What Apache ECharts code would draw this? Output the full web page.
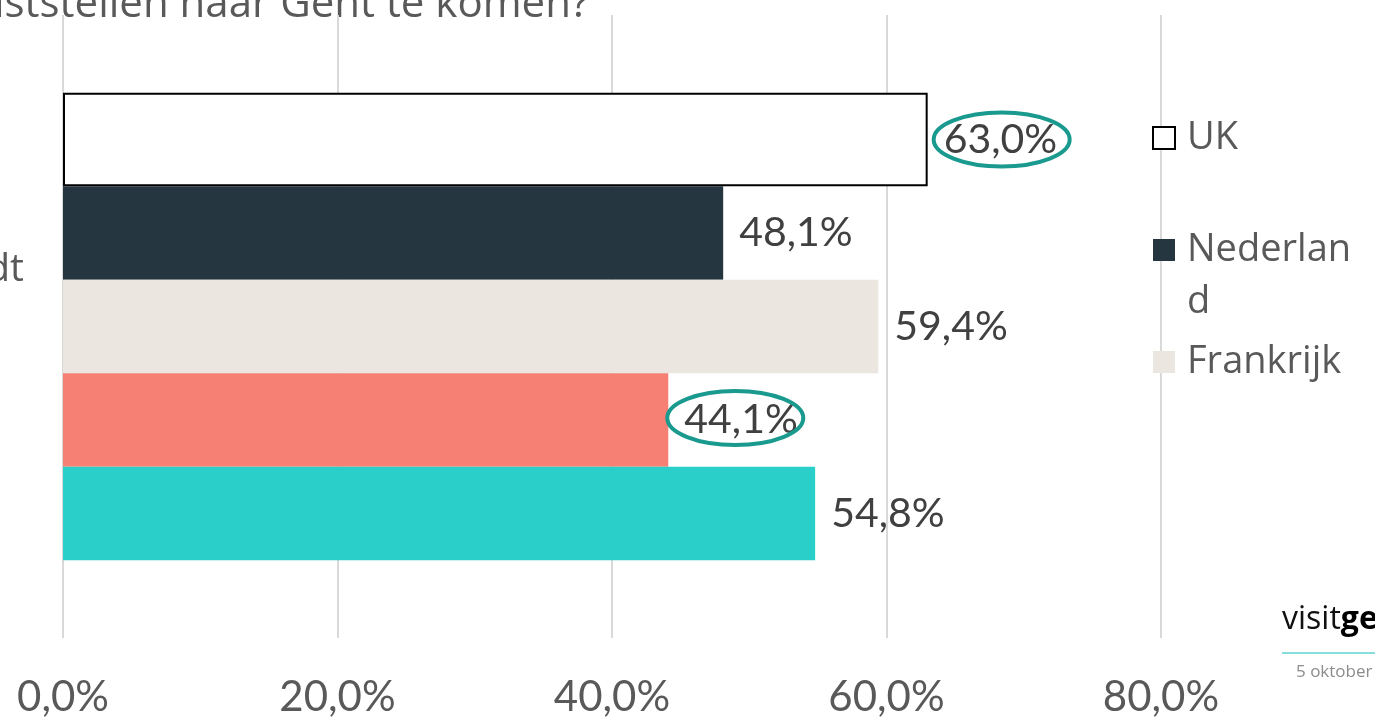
<!DOCTYPE html>
<html>
<head>
<meta charset="utf-8">
<script src="https://cdn.jsdelivr.net/npm/echarts@6/dist/echarts.min.js"></script>
<style>
  html, body { margin: 0; padding: 0; background: #fff; }
  #main { width: 1375px; height: 718px; }
</style>
</head>
<body>
<div id="main"></div>
<script>
// data
const categories = ["dt"];
const seriesNames = ["UK", "Nederland", "Frankrijk", "Duitsland", "Spanje"];
const seriesValues = [[63.0], [48.1], [59.4], [44.1], [54.8]];
const xTicks = [0, 20, 40, 60, 80];
const circled = ["UK", "Duitsland"]; // omcirkelde waarden

const colors = ["#ffffff", "#263640", "#ebe6e0", "#f58073", "#29cfc8"];
const numFont = "Lato, 'Open Sans', sans-serif";
const txtFont = "'Open Sans', Lato, sans-serif";
const fmt = (v) => v.toFixed(1).replace(".", ",") + "%";

const myChart = echarts.init(document.getElementById("main"));

const series = seriesNames.map((name, i) => ({
  name: name,
  type: "bar",
  data: seriesValues[i],
  barWidth: 93.5,
  barGap: "0%",
  itemStyle: {
    color: colors[i],
    borderColor: i === 0 ? "#000" : colors[i],
    borderWidth: i === 0 ? 2 : 0,
  },
  label: {
    show: true,
    position: "right",
    distance: 16,
    formatter: (p) => fmt(p.value),
    fontFamily: numFont,
    fontSize: 41,
    color: "#404040",
  },
}));

const option = {
  animation: false,
  color: colors,
  grid: { left: 63, right: 214, top: 15, bottom: 75 },
  xAxis: {
    type: "value",
    min: xTicks[0],
    max: xTicks[xTicks.length - 1],
    interval: 20,
    axisLine: { show: false },
    axisTick: { show: false },
    splitLine: { lineStyle: { color: "#d9d9d9", width: 2 } },
    axisLabel: {
      fontFamily: numFont,
      fontSize: 42,
      color: "#595959",
      margin: 38,
      formatter: (v) => fmt(v),
    },
  },
  yAxis: {
    type: "category",
    data: categories,
    inverse: true,
    axisLine: { show: false },
    axisTick: { show: false },
    axisLabel: { show: false },
  },
  legend: {
    orient: "vertical",
    left: 1147,
    top: 107,
    icon: "rect",
    itemWidth: 22,
    itemHeight: 22,
    itemGap: 8,
    data: [
      { name: "UK", itemStyle: { borderColor: "#000", borderWidth: 2 } },
      { name: "Nederland" },
      { name: "Frankrijk" },
    ],
    formatter: (n) => (n === "Nederland" ? "\nNederlan\nd" : n),
    textStyle: {
      fontFamily: txtFont,
      fontSize: 38,
      lineHeight: 52,
      color: "#595959",
      padding: [0, 0, 0, 7],
    },
  },
  series: series,
  graphic: [
    {
      type: "text",
      left: -6,
      top: -16,
      style: {
        text: "iststellen naar Gent te komen?",
        fontFamily: txtFont,
        fontSize: 42,
        fill: "#595959",
      },
    },
    {
      type: "text",
      right: 1351,
      top: 250,
      style: { text: "dt", fontFamily: txtFont, fontSize: 39, fill: "#595959" },
    },
    {
      type: "text",
      left: 1282,
      top: 604,
      style: {
        rich: {
          a: { fontFamily: txtFont, fontSize: 32, fill: "#111" },
          b: { fontFamily: txtFont, fontSize: 32, fontWeight: "bold", fill: "#000" },
        },
        text: "{a|visit}{b|gent}",
      },
    },
    {
      type: "line",
      shape: { x1: 1282, y1: 653, x2: 1375, y2: 653 },
      style: { stroke: "#5fd3d5", lineWidth: 1.5 },
    },
    {
      type: "text",
      left: 1296,
      top: 664,
      style: { text: "5 oktober 2018", fontFamily: txtFont, fontSize: 17, fill: "#8c8c8c" },
    },
  ],
};
myChart.setOption(option);

// ellipsen rond de omcirkelde labels, via de schaal van de grafiek
const ellipseShift = { UK: [74, 0], Duitsland: [67, -2] };
const ellipses = circled.map((name) => {
  const i = seriesNames.indexOf(name);
  const v = seriesValues[i][0];
  const end = myChart.convertToPixel({ gridIndex: 0 }, [v, 0]);
  const yCenter = end[1] + (i - (seriesNames.length - 1) / 2) * 93.5;
  return {
    type: "ellipse",
    shape: { cx: end[0] + ellipseShift[name][0], cy: yCenter + ellipseShift[name][1], rx: 68, ry: 27 },
    style: { fill: "none", stroke: "#1a9a8f", lineWidth: 4 },
    z: 100,
  };
});
myChart.setOption({ graphic: option.graphic.concat(ellipses) });
</script>
</body>
</html>
